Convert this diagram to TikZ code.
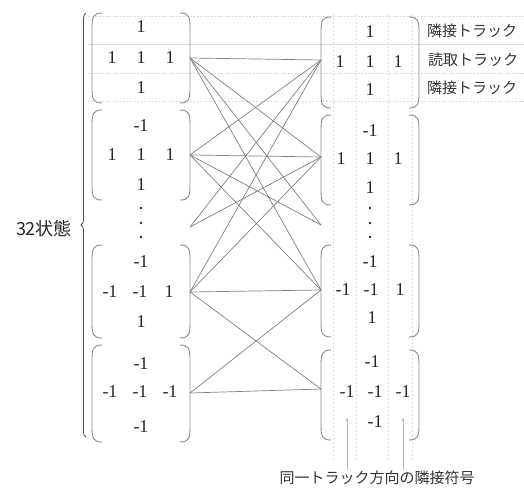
\documentclass[tikz,border=0pt]{standalone}
\usepackage{fontspec}
\setmainfont{Liberation Serif}
\newfontfamily\jpfont{Noto Sans CJK JP}
\usetikzlibrary{decorations.pathreplacing,arrows.meta}
\newcommand\myLpar[3]{\draw[parstyle] ({#1+10},#2) .. controls ({#1+1},#2) and (#1,{#2+4}) .. (#1,{#2+15}) -- (#1,{#3-15}) .. controls (#1,{#3-4}) and ({#1+1},#3) .. ({#1+10},#3);}
\newcommand\myRpar[3]{\draw[parstyle] ({#1-10},#2) .. controls ({#1-1},#2) and (#1,{#2+4}) .. (#1,{#2+15}) -- (#1,{#3-15}) .. controls (#1,{#3-4}) and ({#1-1},#3) .. ({#1-10},#3);}
\begin{document}
\begin{tikzpicture}[x=1pt,y=-1pt,
 num/.style={font=\fontsize{18}{18}\selectfont, inner sep=0pt, text=black!85},
 lab/.style={font=\jpfont\fontsize{15}{15}\selectfont, inner sep=0pt, text=black!80},
 biglab/.style={font=\jpfont\fontsize{18}{18}\selectfont, inner sep=0pt, text=black!85},
 parstyle/.style={draw=black!45, line width=0.9pt},
 conn/.style={draw=black!50, line width=0.7pt},
 hgrid/.style={draw=black!12, line width=0.4pt},
 hgridd/.style={draw=black!14, line width=0.4pt, dash pattern=on 2pt off 1.5pt},
 pgrid/.style={draw=red!18, line width=0.4pt, dash pattern=on 2pt off 1.5pt},
 vgrid/.style={draw=black!13, line width=0.4pt, dash pattern=on 2pt off 2pt},
 ptr/.style={draw=black!28, line width=0.5pt, -{Latex[length=4pt,width=3pt]}},
 dotn/.style={circle, fill=black!85, inner sep=0pt, minimum size=2.6pt},
]
\useasboundingbox (0,0) rectangle (524,489);

% faint grid lines
\draw[pgrid] (88,16) -- (524,16);
\draw[hgrid] (88,44) -- (524,44);
\draw[pgrid] (88,73) -- (524,73);
\draw[hgridd] (88,101) -- (524,101);
\foreach \vx in {333,356,388,412} \draw[vgrid] (\vx,14) -- (\vx,460);

% big brace and label
\draw[draw=black!70, line width=0.8pt, decorate, decoration={brace, amplitude=5pt}] (86,437) -- (86,13);
\node[biglab] (states) at (44,229) {32状態};

% left matrices
\myLpar{92}{13}{103}\myRpar{190}{13}{103}
\myLpar{92}{110}{200}\myRpar{190}{110}{200}
\myLpar{92}{245}{338}\myRpar{190}{245}{338}
\myLpar{92}{345}{442}\myRpar{190}{345}{442}
% right matrices
\myLpar{321}{17}{108}\myRpar{419}{17}{108}
\myLpar{321}{115}{205}\myRpar{419}{115}{205}
\myLpar{321}{245}{337}\myRpar{419}{245}{337}
\myLpar{321}{350}{440}\myRpar{419}{350}{440}

% left entries
\node[num] (la1) at (141,27) {1};
\node[num] (la2) at (112,58) {1};
\node[num] (la3) at (141,58) {1};
\node[num] (la4) at (170,58) {1};
\node[num] (la5) at (141,88) {1};
\node[num] (lb1) at (141,126) {-1};
\node[num] (lb2) at (112,155) {1};
\node[num] (lb3) at (141,155) {1};
\node[num] (lb4) at (170,155) {1};
\node[num] (lb5) at (141,185) {1};
\node[dotn] (ld1) at (141,208) {};
\node[dotn] (ld2) at (141,223) {};
\node[dotn] (ld3) at (141,237) {};
\node[num] (lc1) at (141,262) {-1};
\node[num] (lc2) at (110,292) {-1};
\node[num] (lc3) at (140,292) {-1};
\node[num] (lc4) at (169,292) {1};
\node[num] (lc5) at (141,322) {1};
\node[num] (le1) at (141,364) {-1};
\node[num] (le2) at (110,392) {-1};
\node[num] (le3) at (140,392) {-1};
\node[num] (le4) at (170,392) {-1};
\node[num] (le5) at (141,427) {-1};

% right entries
\node[num] (ra1) at (370,32) {1};
\node[num] (ra2) at (340,62) {1};
\node[num] (ra3) at (370,62) {1};
\node[num] (ra4) at (398,62) {1};
\node[num] (ra5) at (370,90) {1};
\node[num] (rb1) at (370,131) {-1};
\node[num] (rb2) at (341,159) {1};
\node[num] (rb3) at (370,159) {1};
\node[num] (rb4) at (398,159) {1};
\node[num] (rb5) at (370,188) {1};
\node[dotn] (rd1) at (370,208) {};
\node[dotn] (rd2) at (370,223) {};
\node[dotn] (rd3) at (370,237) {};
\node[num] (rc1) at (370,262) {-1};
\node[num] (rc2) at (343,290) {-1};
\node[num] (rc3) at (371,290) {-1};
\node[num] (rc4) at (400,290) {1};
\node[num] (rc5) at (372,318) {1};
\node[num] (re1) at (372,362) {-1};
\node[num] (re2) at (347,392) {-1};
\node[num] (re3) at (375,392) {-1};
\node[num] (re4) at (403,392) {-1};
\node[num] (re5) at (375,422) {-1};

% right labels
\node[lab] (t1) at (472,31) {隣接トラック};
\node[lab] (t2) at (473,60) {読取トラック};
\node[lab] (t3) at (472,88) {隣接トラック};

% connection points
\coordinate (L1) at (190,58);
\coordinate (L2) at (190,155);
\coordinate (Ld) at (190,227);
\coordinate (L3) at (190,292);
\coordinate (L4) at (190,393);
\coordinate (R1) at (321,60);
\coordinate (R2) at (321,157);
\coordinate (Rd) at (321,225);
\coordinate (R3) at (321,290);
\coordinate (R4) at (321,389);

\foreach \a/\b in {L1/R1,L1/R2,L1/Rd,L1/R3,L2/R1,L2/R2,L2/Rd,L2/R3,Ld/R1,Ld/R2,L3/R1,L3/R2,L3/R3,L3/R4,L4/R3,L4/R4}
  \draw[conn] (\a) -- (\b);

% bottom label and pointers
\node[lab] (bot) at (377,478) {同一トラック方向の隣接符号};
\coordinate (p1s) at (347,470);
\coordinate (p1e) at (347,417);
\coordinate (p2s) at (403,470);
\coordinate (p2e) at (403,417);
\draw[ptr] (p1s) -- (p1e);
\draw[ptr] (p2s) -- (p2e);
\end{tikzpicture}
\end{document}
